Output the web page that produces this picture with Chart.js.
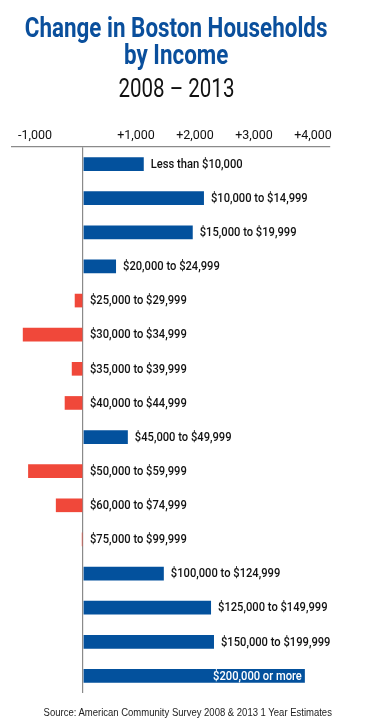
<!DOCTYPE html>
<html>
<head>
<meta charset="utf-8">
<script src="https://cdn.jsdelivr.net/npm/chart.js@4.4.1/dist/chart.umd.min.js"></script>
<style>
  html, body { margin: 0; padding: 0; background: #fff; }
  #wrap { position: relative; width: 383px; height: 726px; overflow: hidden; }
  canvas { position: absolute; left: 0; top: 0; }
  .t { position: absolute; left: -100px; width: 552px; text-align: center; white-space: nowrap; }
  .t span { display: inline-block; transform-origin: 50% 50%; }
  .t1 { top: 13.7px; font: bold 28px/28px Roboto, "DejaVu Sans Condensed", sans-serif; color: #0A4F9C; }
  .t2 { top: 41.4px; font: bold 28px/28px Roboto, "DejaVu Sans Condensed", sans-serif; color: #0A4F9C; }
  .t3 { top: 74.8px; font: 26px/26px Roboto, "DejaVu Sans Condensed", sans-serif; color: #111; }
  .t1 span { transform: scaleX(0.8); }
  .t2 span { transform: scaleX(0.8); }
  .t3 span { transform: scaleX(0.79); }
  .src { position: absolute; left: 0; width: 375px; top: 707px; text-align: center; white-space: nowrap;
         font: 10px/12px "Liberation Sans", Arial, sans-serif; color: #222; }
  .src span { display: inline-block; transform: scaleX(0.95); }
</style>
</head>
<body>
<div id="wrap">
  <canvas id="c" width="383" height="726"></canvas>
  <div class="t t1"><span>Change in Boston Households</span></div>
  <div class="t t2"><span>by Income</span></div>
  <div class="t t3"><span>2008 – 2013</span></div>
  <div class="src"><span>Source: American Community Survey 2008 &amp; 2013 1 Year Estimates</span></div>
</div>
<script>
const categories = [
  "Less than $10,000",
  "$10,000 to $14,999",
  "$15,000 to $19,999",
  "$20,000 to $24,999",
  "$25,000 to $29,999",
  "$30,000 to $34,999",
  "$35,000 to $39,999",
  "$40,000 to $44,999",
  "$45,000 to $49,999",
  "$50,000 to $59,999",
  "$60,000 to $74,999",
  "$75,000 to $99,999",
  "$100,000 to $124,999",
  "$125,000 to $149,999",
  "$150,000 to $199,999",
  "$200,000 or more"
];
const changeValues = [1030, 2050, 1860, 560, -140, -1020, -190, -310, 760, -930, -460, -20, 1370, 2170, 2220, 3760];
const tickValues = [-1000, 0, 1000, 2000, 3000, 4000];
const tickLabels = ["-1,000", "", "+1,000", "+2,000", "+3,000", "+4,000"];

const BLUE = "#03519D";
const RED = "#F0483A";
const LABEL_FONT = '500 13px Roboto, "DejaVu Sans Condensed", sans-serif';
const LABEL_SCALE = 0.86;

const barLabels = {
  id: "barLabels",
  afterDatasetsDraw(chart) {
    const ctx = chart.ctx;
    const meta = chart.getDatasetMeta(0);
    const xScale = chart.scales.x;
    const zero = xScale.getPixelForValue(0);
    ctx.save();
    ctx.font = LABEL_FONT;
    ctx.textBaseline = "middle";
    meta.data.forEach((bar, i) => {
      const v = changeValues[i];
      const text = categories[i];
      const w = ctx.measureText(text).width * LABEL_SCALE;
      const startX = (v >= 0 ? bar.x : zero) + 7;
      ctx.save();
      if (startX + w > chart.width - 4) {
        ctx.fillStyle = "#ffffff";
        ctx.textAlign = "right";
        ctx.translate(bar.x - 3, bar.y + 0.5);
      } else {
        ctx.fillStyle = "#111111";
        ctx.textAlign = "left";
        ctx.translate(startX, bar.y + 0.5);
      }
      ctx.scale(LABEL_SCALE, 1);
      ctx.fillText(text, 0, 0);
      ctx.restore();
    });
    ctx.restore();
  }
};

new Chart(document.getElementById("c"), {
  type: "bar",
  data: {
    labels: categories,
    datasets: [{
      data: changeValues,
      backgroundColor: changeValues.map(v => v >= 0 ? BLUE : RED),
      borderWidth: 0,
      barPercentage: 0.4,
      categoryPercentage: 1.0
    }]
  },
  options: {
    indexAxis: "y",
    responsive: false,
    animation: false,
    layout: { padding: { top: 124, left: 12, right: 53, bottom: 33 } },
    plugins: {
      legend: { display: false },
      tooltip: { enabled: false },
      title: { display: false }
    },
    scales: {
      x: {
        position: "top",
        min: -1203,
        max: 4186,
        // zero tick (unlabelled, carries the zero line) is moved to the end so that
        // 'inner' alignment left-aligns the -1,000 label only
        afterBuildTicks: axis => {
          const nonZero = tickValues.filter(v => v !== 0);
          axis.ticks = nonZero.concat(tickValues.filter(v => v === 0)).map(v => ({ value: v }));
        },
        ticks: {
          autoSkip: false,
          maxRotation: 0,
          padding: 4,
          align: "inner",
          labelOffset: -6,
          color: "#111",
          font: { family: 'Roboto, "DejaVu Sans Condensed", sans-serif', size: 12.5 },
          callback: function (value) {
            const idx = tickValues.indexOf(value);
            return idx >= 0 ? tickLabels[idx] : "";
          }
        },
        grid: {
          drawTicks: false,
          drawOnChartArea: true,
          lineWidth: 1.2,
          color: ctx => (ctx.tick && ctx.tick.value === 0) ? "#8a8a8a" : "rgba(0,0,0,0)"
        },
        border: { display: true, color: "#8a8a8a", width: 1.2 }
      },
      y: {
        display: false
      }
    }
  },
  plugins: [barLabels]
});
</script>
</body>
</html>
